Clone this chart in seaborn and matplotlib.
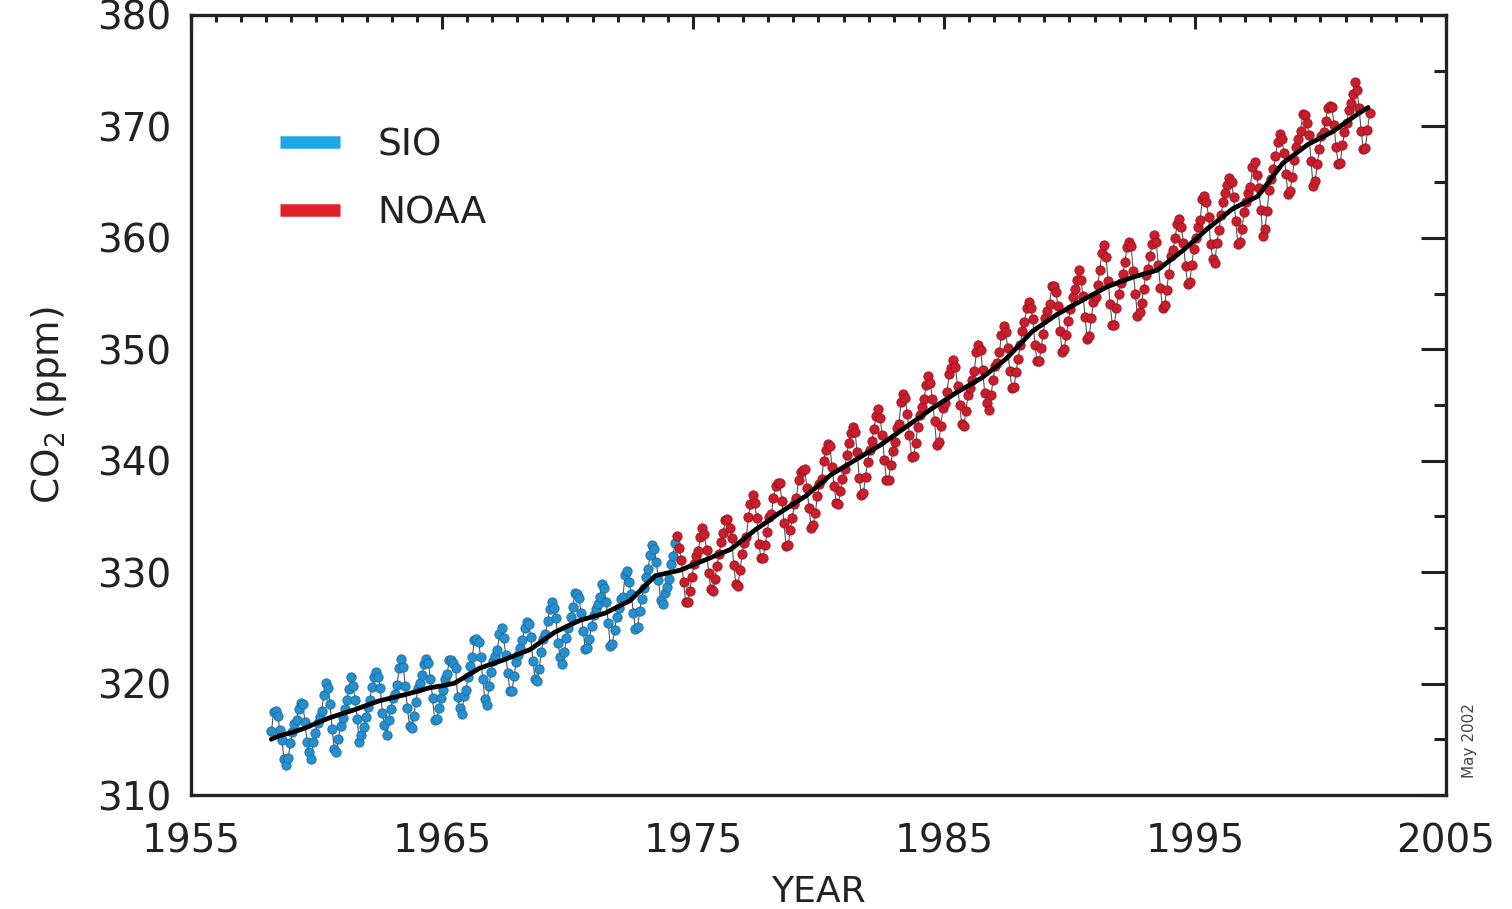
import numpy as np
import pandas as pd
import matplotlib
matplotlib.use("Agg")
import matplotlib.pyplot as plt
import seaborn as sns
from matplotlib.lines import Line2D
from matplotlib.ticker import MultipleLocator

# =========================================================
# DATA (monthly CO2, ppm)
# =========================================================
sio_start = (1958, 3)     # March 1958
sio_ppm = [
    315.71, 317.45, 317.50, 317.10, 315.86, 314.93, 313.20, 312.66, 313.33, 314.67,
    315.62, 316.38, 316.71, 317.72, 318.29, 318.15, 316.54, 314.80, 313.84, 313.26, 314.80, 315.58,
    316.43, 316.97, 317.58, 319.02, 320.03, 319.59, 318.18, 315.91, 314.16, 313.83, 315.00, 316.19,
    316.93, 317.70, 318.54, 319.48, 320.58, 319.77, 318.57, 316.79, 314.80, 315.38, 316.10, 317.01,
    317.94, 318.55, 319.68, 320.57, 321.02, 320.62, 319.61, 317.40, 316.25, 315.42, 316.69, 317.69,
    318.74, 319.08, 319.86, 321.39, 322.25, 321.47, 319.74, 317.77, 316.21, 315.99, 317.12, 318.31,
    319.57, 320.07, 320.73, 321.77, 322.25, 321.89, 320.44, 318.70, 316.70, 316.79, 317.79, 318.71,
    319.44, 320.44, 320.89, 322.13, 322.16, 321.87, 321.39, 318.81, 317.81, 317.30, 318.87, 319.42,
    320.62, 321.59, 322.39, 323.87, 324.01, 323.75, 322.39, 320.37, 318.64, 318.10, 319.79, 321.08,
    322.07, 322.50, 323.04, 324.42, 325.00, 324.09, 322.55, 320.92, 319.31, 319.31, 320.72, 321.96,
    322.57, 323.15, 323.89, 325.02, 325.57, 325.36, 324.14, 322.03, 320.41, 320.25, 321.31, 322.84,
    324.00, 324.42, 325.64, 326.66, 327.34, 326.76, 325.88, 323.67, 322.38, 321.78, 322.85, 324.11,
    325.03, 325.99, 326.87, 328.13, 328.07, 327.66, 326.35, 324.69, 323.10, 323.16, 323.98, 325.13,
    326.17, 326.68, 327.18, 327.78, 328.92, 328.57, 327.34, 325.46, 323.36, 323.57, 324.80, 326.01,
    326.77, 327.63, 327.75, 329.72, 330.07, 329.09, 328.05, 326.32, 324.93, 325.06, 326.50, 327.55,
    328.54, 329.56, 330.30, 331.50, 332.48, 332.07, 330.87, 329.31, 327.51, 327.18, 328.16, 328.64,
    329.35, 330.71, 331.48, 332.65,
]

noaa_start = (1974, 5)    # May 1974
noaa_ppm = [
    333.20, 332.16, 331.07, 329.12, 327.32, 327.28, 328.30, 329.58,
    330.73, 331.46, 331.90, 333.17, 333.94, 333.45, 331.98, 329.95, 328.50, 328.34, 329.37, 330.58,
    331.59, 332.75, 333.52, 334.64, 334.77, 334.00, 333.06, 330.68, 328.95, 328.75, 330.15, 331.62,
    332.66, 333.13, 334.95, 336.13, 336.93, 336.17, 334.88, 332.56, 331.29, 331.27, 332.41, 333.60,
    334.95, 335.25, 336.66, 337.69, 338.03, 338.01, 336.41, 334.41, 332.37, 332.41, 333.75, 334.90,
    336.14, 336.69, 338.27, 338.96, 339.21, 339.26, 337.54, 335.75, 333.98, 334.19, 335.31, 336.81,
    337.90, 338.34, 340.01, 340.93, 341.48, 341.33, 339.40, 337.70, 336.19, 336.15, 337.27, 338.32,
    339.29, 340.55, 341.61, 342.53, 343.03, 342.54, 340.78, 338.44, 336.95, 337.08, 338.58, 339.88,
    340.96, 341.73, 342.81, 343.97, 344.63, 343.79, 342.32, 340.09, 338.28, 338.29, 339.60, 340.90,
    341.68, 342.90, 343.33, 345.25, 346.03, 345.63, 344.19, 342.27, 340.35, 340.38, 341.59, 343.05,
    344.10, 344.79, 345.52, 346.84, 347.63, 346.98, 345.53, 343.55, 341.40, 341.67, 343.10, 344.70,
    345.21, 346.16, 347.74, 348.33, 349.06, 348.38, 346.72, 345.02, 343.27, 343.13, 344.49, 345.88,
    346.56, 347.28, 348.01, 349.77, 350.38, 349.93, 348.16, 346.08, 345.22, 344.51, 345.93, 347.21,
    348.52, 348.73, 349.73, 351.31, 352.09, 351.53, 350.11, 348.08, 346.52, 346.59, 347.96, 349.16,
    350.39, 351.64, 352.41, 353.69, 354.21, 353.72, 352.69, 350.40, 348.92, 348.92, 350.13, 351.41,
    352.83, 353.42, 354.08, 355.68, 355.67, 355.13, 353.90, 351.67, 349.80, 349.99, 351.30, 352.53,
    353.66, 354.70, 355.39, 356.20, 357.16, 356.22, 354.82, 352.91, 350.96, 351.18, 352.83, 354.21,
    354.72, 355.75, 357.16, 358.60, 359.34, 358.24, 356.17, 354.02, 352.15, 352.21, 353.75, 354.99,
    355.99, 356.72, 357.81, 359.15, 359.66, 359.25, 357.02, 355.00, 353.01, 353.31, 354.16, 355.40,
    356.70, 357.17, 358.38, 359.46, 360.28, 359.60, 357.57, 355.52, 353.69, 353.99, 355.34, 356.80,
    358.37, 358.91, 359.97, 361.26, 361.69, 360.94, 359.55, 357.48, 355.84, 356.00, 357.58, 359.04,
    359.97, 361.00, 361.64, 363.45, 363.79, 363.26, 361.90, 359.46, 358.06, 357.75, 359.56, 360.70,
    362.05, 363.25, 364.03, 364.72, 365.41, 364.97, 363.65, 361.49, 359.46, 359.60, 360.76, 362.33,
    363.18, 363.99, 364.56, 366.36, 366.80, 365.63, 364.47, 362.50, 360.19, 360.78, 362.43, 364.28,
    365.32, 366.15, 367.31, 368.61, 369.29, 368.87, 367.64, 365.77, 363.90, 364.23, 365.46, 366.97,
    368.15, 368.87, 369.59, 371.14, 371.00, 370.35, 369.27, 366.94, 364.63, 365.12, 366.67, 368.01,
    369.14, 369.46, 370.52, 371.66, 371.82, 371.70, 370.12, 368.12, 366.62, 366.73, 368.29, 369.53,
    370.28, 371.50, 372.12, 372.87, 374.02, 373.30, 371.62, 369.55, 367.96, 368.09, 369.68, 371.24,
]

# smoothed trend (black line)
trend_year = [
    1958.2, 1958.5, 1959.0, 1959.5, 1960.0, 1960.5, 1961.0, 1961.5, 1962.0, 1962.5,
    1963.0, 1963.5, 1964.0, 1964.5, 1965.0, 1965.5, 1966.0, 1966.5, 1967.0, 1967.5,
    1968.0, 1968.5, 1969.0, 1969.5, 1970.0, 1970.5, 1971.0, 1971.5, 1972.0, 1972.5,
    1973.0, 1973.5, 1974.0, 1974.5, 1975.0, 1975.5, 1976.0, 1976.5, 1977.0, 1977.5,
    1978.0, 1978.5, 1979.0, 1979.5, 1980.0, 1980.5, 1981.0, 1981.5, 1982.0, 1982.5,
    1983.0, 1983.5, 1984.0, 1984.5, 1985.0, 1985.5, 1986.0, 1986.5, 1987.0, 1987.5,
    1988.0, 1988.5, 1989.0, 1989.5, 1990.0, 1990.5, 1991.0, 1991.5, 1992.0, 1992.5,
    1993.0, 1993.5, 1994.0, 1994.5, 1995.0, 1995.5, 1996.0, 1996.5, 1997.0, 1997.5,
    1998.0, 1998.5, 1999.0, 1999.5, 2000.0, 2000.5, 2001.0, 2001.5, 2001.9,
]
trend_ppm = [
    315.0, 315.3, 315.6, 315.97, 316.45, 316.91, 317.28, 317.64, 318.05, 318.45,
    318.72, 318.99, 319.3, 319.62, 319.8, 320.04, 320.7, 321.38, 321.77, 322.16,
    322.6, 323.04, 323.83, 324.62, 325.15, 325.68, 326.0, 326.32, 326.88, 327.45,
    328.56, 329.68, 329.93, 330.18, 330.65, 331.11, 331.58, 332.04, 332.93, 333.83,
    334.6, 335.4, 336.12, 336.84, 337.8, 338.75, 339.43, 340.11, 340.78, 341.45,
    342.25, 343.05, 343.85, 344.65, 345.38, 346.12, 346.77, 347.42, 348.3, 349.19,
    350.38, 351.57, 352.35, 353.12, 353.75, 354.39, 355.0, 355.61, 356.03, 356.45,
    356.78, 357.1, 357.97, 358.83, 359.82, 360.82, 361.71, 362.61, 363.17, 363.73,
    365.2, 366.7, 367.54, 368.38, 368.97, 369.55, 370.35, 371.14, 371.7,
]

year_ticks = [1955, 1965, 1975, 1985, 1995, 2005]

# =========================================================
# BUILD TABLES
# =========================================================
def month_axis(start, n):
    y0, m0 = start
    return y0 + (m0 - 1 + np.arange(n) + 0.5) / 12.0

sio = pd.DataFrame({"year": month_axis(sio_start, len(sio_ppm)), "ppm": sio_ppm})
noaa = pd.DataFrame({"year": month_axis(noaa_start, len(noaa_ppm)), "ppm": noaa_ppm})
trend = pd.DataFrame({"year": trend_year, "ppm": trend_ppm})
allpts = pd.concat([sio, noaa], ignore_index=True)

# =========================================================
# PLOT
# =========================================================
sns.set_theme(style="white")
plt.rcParams["font.family"] = ["DejaVu Sans"]

fig = plt.figure(figsize=(15.12, 9.09), dpi=100)
ax = fig.add_axes([0.1263, 0.1254, 0.8300, 0.8581])

sio_col = "#2590cf"
noaa_col = "#cc1d2c"

# thin connecting line
sns.lineplot(data=allpts, x="year", y="ppm", color="#555555", lw=0.8, ax=ax)
sns.scatterplot(data=sio, x="year", y="ppm", color=sio_col, edgecolor="#1b6aa0",
                linewidth=0.6, s=45, ax=ax, zorder=3)
sns.scatterplot(data=noaa, x="year", y="ppm", color=noaa_col, edgecolor="#961320",
                linewidth=0.6, s=45, ax=ax, zorder=3)
sns.lineplot(data=trend, x="year", y="ppm", color="black", lw=3.4, ax=ax, zorder=4)

ax.set_xlim(1955, 2005)
ax.set_ylim(310, 380)
ax.set_xticks(year_ticks)
ax.xaxis.set_minor_locator(MultipleLocator(1))
ax.yaxis.set_major_locator(MultipleLocator(10))
ax.yaxis.set_minor_locator(MultipleLocator(5))

ax.tick_params(which="both", direction="in", top=True, right=True,
               width=2.2, color="#222222", labelsize=28, labelcolor="#222222")
ax.tick_params(axis="y", which="major", length=18, pad=14)
ax.tick_params(axis="y", which="minor", length=9)
ax.tick_params(axis="x", which="major", length=10, pad=20)
ax.tick_params(axis="x", which="minor", length=5)

for sp in ax.spines.values():
    sp.set_linewidth(2.4)
    sp.set_color("#222222")

ax.set_xlabel("YEAR", fontsize=26, color="#222222", labelpad=10)
ax.set_ylabel("CO$_2$ (ppm)", fontsize=27, color="#222222", labelpad=20)

handles = [Line2D([0], [0], color="#1ea6e6", lw=9, solid_capstyle="butt"),
           Line2D([0], [0], color="#e0202f", lw=9, solid_capstyle="butt")]
ax.legend(handles, ["SIO", "NOAA"], loc="upper left", bbox_to_anchor=(0.056, 0.88),
          frameon=False, fontsize=27, handlelength=1.6, handletextpad=1.0,
          labelspacing=0.85, borderpad=0, labelcolor="#222222")

fig.text(0.972, 0.185, "May 2002", rotation=90, fontsize=11, color="#444444",
         ha="center", va="center")

fig.savefig("out.png", dpi=100, facecolor="white")
